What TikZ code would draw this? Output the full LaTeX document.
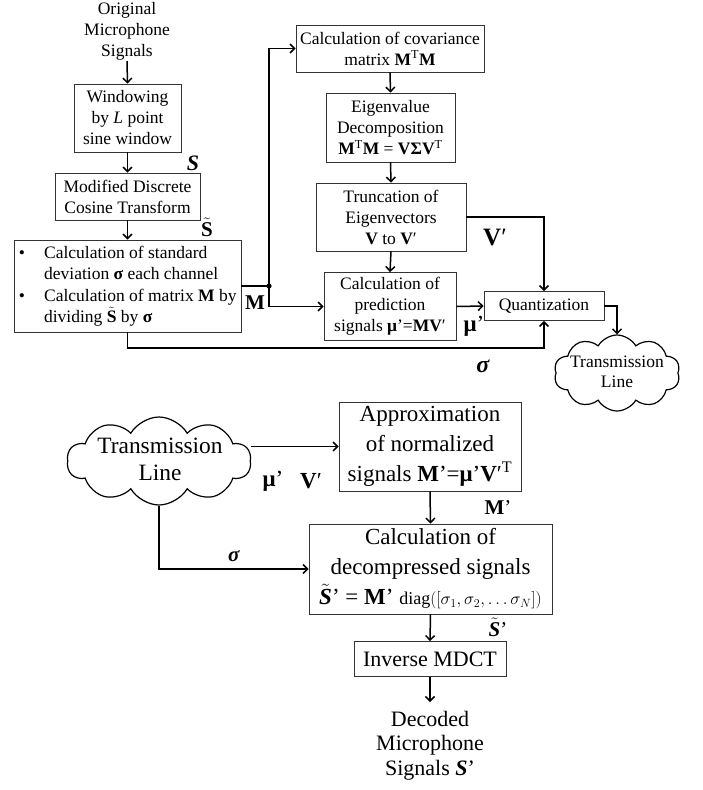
\documentclass[tikz,border=0pt]{standalone}
\usepackage{amsmath}
\usepackage{fontspec}
\setmainfont{Liberation Serif}
\usetikzlibrary{arrows.meta,shapes.symbols}
\newcommand\fs[2]{\fontsize{#1}{#2}\selectfont}
\begin{document}
\begin{tikzpicture}[x=1pt,y=-1pt,
  box/.style={draw=black!80, line width=0.8pt, rectangle, inner sep=0pt, align=center, font=\fs{17.5}{21}},
  bigbox/.style={draw=black!80, line width=0.8pt, rectangle, inner sep=0pt, align=center, font=\fs{23}{30}},
  txt/.style={inner sep=1pt, align=center},
  conn/.style={line width=1.5pt, -{Straight Barb[length=4.5pt,width=9pt]}},
  plain/.style={line width=1.5pt},
  lbl/.style={inner sep=0pt},
  cloudnode/.style={cloud, draw, line width=1.2pt, cloud puffs=10, cloud puff arc=120, cloud ignores aspect, inner sep=0pt}]
\useasboundingbox (0,0) rectangle (702,790);

% encoder
\node[txt, font=\fs{17.5}{21}] (orig) at (127,31) {Original\\Microphone\\Signals};
\node[box, minimum width=107, minimum height=68] (win) at (127.5,118) {Windowing\\by \textit{L} point\\sine window};
\node[box, minimum width=145, minimum height=47] (mdct) at (127.5,196.5) {Modified Discrete\\Cosine Transform};
\node[box, minimum width=227, minimum height=92, font=\fs{17.5}{21.5}] (big) at (127.5,286) {\makebox[227pt][l]{\hspace{5pt}\begin{tabular}{@{}l@{\hspace{19pt}}l@{}}
\textbullet & Calculation of standard\\
 & deviation \textbf{σ} each channel\\
\textbullet & Calculation of matrix \textbf{M} by\\
 & dividing $\smash{\tilde{\text{\bfseries S}}}$ by \textbf{σ}
\end{tabular}}};

\node[box, minimum width=188, minimum height=47] (cov) at (390,48.5) {Calculation of covariance\\matrix \textbf{M}\textsuperscript{T}\textbf{M}};
\node[box, minimum width=129, minimum height=69] (eig) at (390.5,127.5) {Eigenvalue\\Decomposition\\\textbf{M}\textsuperscript{T}\textbf{M} = \textbf{VΣV}\textsuperscript{T}};
\node[box, minimum width=150, minimum height=68] (trunc) at (391,217) {Truncation of\\Eigenvectors\\\textbf{V} to \textbf{V}′};
\node[box, minimum width=132, minimum height=68] (pred) at (390,306.5) {Calculation of\\prediction\\signals \textbf{μ}’=\textbf{MV}′};
\node[box, minimum width=120, minimum height=29] (quant) at (544,306) {Quantization};
\node[cloudnode, minimum width=126, minimum height=76] (c1) at (617,373) {};
\node[txt, font=\fs{17.5}{20}] (c1txt) at (617,372) {Transmission\\Line};

\coordinate (j) at (269,286);
\coordinate (sg) at (127.5,348);

\draw[conn] (orig.south) -- (win.north);
\draw[conn] (win.south) -- (mdct.north);
\draw[conn] (mdct.south) -- (big.north);
\draw[plain] (big.east |- j) -- (j);
\fill (j) circle (2.6pt);
\draw[conn] (j) |- (cov.west);
\draw[conn] (j) |- (pred.west);
\draw[conn] (cov.south) -- (eig.north);
\draw[conn] (eig.south) -- (trunc.north);
\draw[conn] (trunc.south) -- (pred.north);
\draw[conn] (pred.east) -- (quant.west);
\draw[conn] (trunc.east) -| (quant.north);
\draw[conn] (big.south) -- (sg) -| (quant.south);
\draw[conn] (quant.east) -| (c1.north);

\node[lbl, font=\fs{22}{22}] (lS) at (193,163) {\textbf{\textit{S}}};
\node[lbl, font=\fs{21}{21}] (lSt) at (207,227) {$\tilde{\text{\bfseries S}}$};
\node[lbl, font=\fs{21}{21}] (lM) at (255,303) {\textbf{M}};
\node[lbl, font=\fs{25}{25}] (lV) at (495,238) {\textbf{V}′};
\node[lbl, font=\fs{23}{23}] (lmu) at (474,326) {\textbf{μ}’};
\node[lbl, font=\fs{24}{24}] (lsig) at (483,366) {\textbf{\textit{σ}}};

% decoder
\node[cloudnode, minimum width=184, minimum height=88] (c2) at (159,461) {};
\node[txt, font=\fs{23.4}{27}] (c2txt) at (160,459) {Transmission\\Line};
\node[bigbox, minimum width=182, minimum height=89] (apx) at (430,446.5) {Approximation\\of normalized\\signals \textbf{M}’=\textbf{μ}’\textbf{V}′\textsuperscript{T}};
\node[bigbox, minimum width=243, minimum height=90] (dec) at (430.5,569) {Calculation of\\decompressed signals\\$\tilde{\text{\bfseries\itshape S}}$’ = \textbf{M}’ {\fs{18}{20}diag$([\sigma_1,\sigma_2,\ldots\sigma_N])$}};
\node[bigbox, font=\fs{22}{26}, minimum width=152, minimum height=35] (imdct) at (430,659) {Inverse MDCT};
\node[txt, font=\fs{22}{24.5}, anchor=north, inner ysep=9pt] (out) at (430,702) {Decoded\\Microphone\\Signals \textbf{\textit{S}}’};

\draw[conn] (c2.east |- apx.west) -- (apx.west);
\draw[conn] (c2.south) |- (dec.west);
\draw[conn] (apx.south) -- (dec.north);
\draw[conn] (dec.south) -- (imdct.north);
\draw[conn] (imdct.south) -- (out.north);

\node[lbl, font=\fs{23}{23}] (lmu2) at (273,481) {\textbf{μ}’};
\node[lbl, font=\fs{23}{23}] (lV2) at (311,481) {\textbf{V}′};
\node[lbl, font=\fs{21}{21}] (lsig2) at (234,556) {\textbf{\textit{σ}}};
\node[lbl, font=\fs{21}{21}] (lM2) at (498,508) {\textbf{M}’};
\node[lbl, font=\fs{21}{21}] (lSt2) at (498,627) {$\tilde{\text{\bfseries\itshape S}}$’};
\end{tikzpicture}
\end{document}
